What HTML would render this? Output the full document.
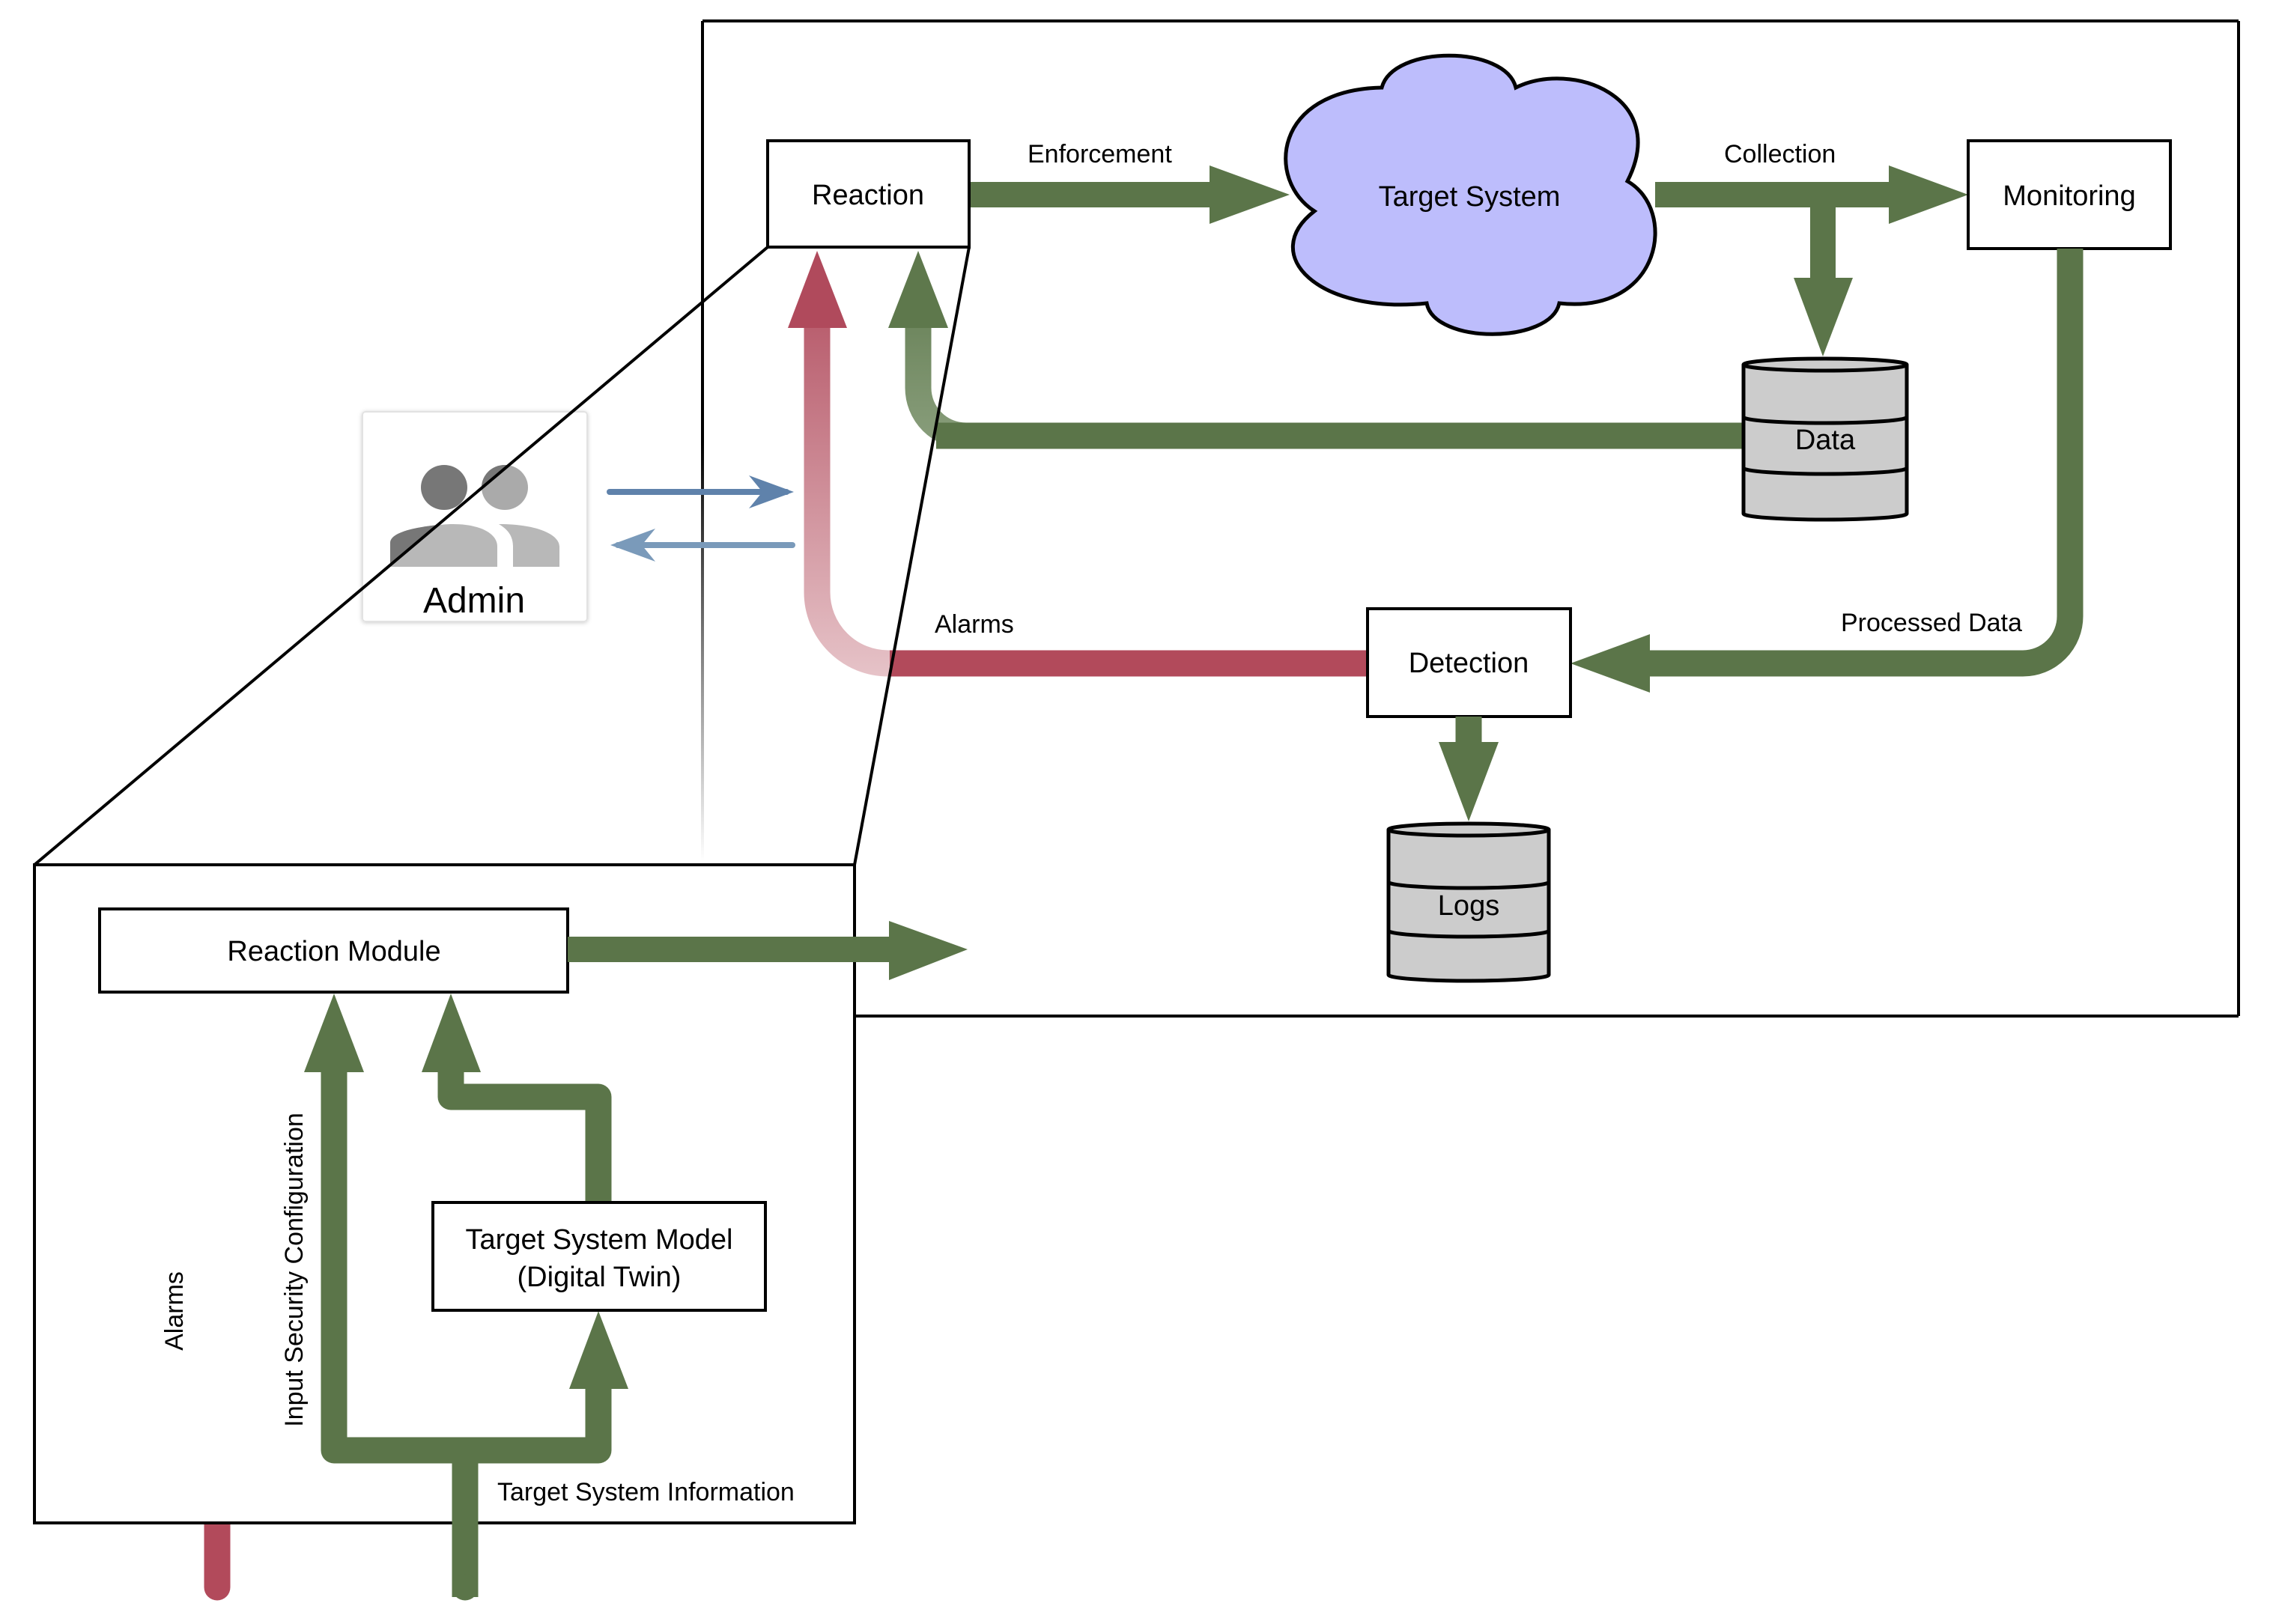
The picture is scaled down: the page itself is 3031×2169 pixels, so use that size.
<!DOCTYPE html>
<html><head><meta charset="utf-8"><style>
html,body{margin:0;padding:0;background:#fff;}
svg{display:block;}
text{font-family:"Liberation Sans",sans-serif;fill:#000;}
</style></head><body>
<svg width="3031" height="2169" viewBox="0 0 3031 2169" xmlns="http://www.w3.org/2000/svg">
<defs>
<linearGradient id="rg" x1="0" y1="335" x2="0" y2="904" gradientUnits="userSpaceOnUse">
<stop offset="0" stop-color="#b04a5c"/><stop offset="1" stop-color="#e6c3c8"/></linearGradient>
<linearGradient id="gg" x1="0" y1="335" x2="0" y2="600" gradientUnits="userSpaceOnUse">
<stop offset="0" stop-color="#5e784c"/><stop offset="1" stop-color="#8a9f7d"/></linearGradient>
<linearGradient id="vl" x1="0" y1="28" x2="0" y2="1150" gradientUnits="userSpaceOnUse">
<stop offset="0" stop-color="#000"/><stop offset="0.5" stop-color="#000"/><stop offset="1" stop-color="#000" stop-opacity="0"/></linearGradient>
<clipPath id="darkc"><polygon points="0,0 1417,0 46,1155 0,1155"/></clipPath>
<filter id="sh" x="-10%" y="-10%" width="120%" height="120%"><feDropShadow dx="0" dy="1" stdDeviation="3" flood-color="#000" flood-opacity="0.2"/></filter>
</defs>

<line x1="938" y1="28" x2="2989" y2="28" stroke="#000" stroke-width="4"/>
<line x1="2989" y1="28" x2="2989" y2="1357" stroke="#000" stroke-width="4"/>
<line x1="1141" y1="1357" x2="2989" y2="1357" stroke="#000" stroke-width="4"/>
<rect x="936" y="28" width="4" height="1122" fill="url(#vl)"/>

<rect x="484" y="550" width="300" height="280" rx="4" fill="#fff" stroke="#e2e2e2" stroke-width="2" filter="url(#sh)"/>
<g fill="#b8b8b8">
<ellipse cx="593" cy="651" rx="31" ry="30" fill="#777"/>
<ellipse cx="674" cy="651" rx="31" ry="30" fill="#aaa"/>
<path d="M521,757 L521,725 C521,705 590,700 605,700 C640,700 664,712 664,730 L664,757 Z"/>
<path d="M666,700 C720,700 747,715 747,730 L747,757 L685,757 L685,730 C685,718 680,708 666,700 Z"/>
</g>
<g clip-path="url(#darkc)" fill="#777">
<ellipse cx="674" cy="651" rx="31" ry="30"/>
<path d="M521,757 L521,725 C521,705 590,700 605,700 C640,700 664,712 664,730 L664,757 Z"/>
</g>
<text x="633" y="818" font-size="48" text-anchor="middle">Admin</text>

<line x1="814" y1="657" x2="1050" y2="657" stroke="#5f82ab" stroke-width="8" stroke-linecap="round"/>
<polygon points="1060,657 1000,635 1018,657 1000,679" fill="#5f82ab"/>
<line x1="825" y1="728" x2="1058" y2="728" stroke="#7a9aba" stroke-width="8" stroke-linecap="round"/>
<polygon points="815,728 875,706 857,728 875,750" fill="#7a9aba"/>

<path d="M1091,438 L1091,791 A95,95 0 0 0 1186,886 L1190,886" fill="none" stroke="url(#rg)" stroke-width="35"/>
<polygon points="1091,335 1052,438 1131,438" fill="#b04a5c"/>
<line x1="1188" y1="886" x2="1827" y2="886" stroke="#b24a5b" stroke-width="35"/>
<text x="1248" y="845" font-size="34">Alarms</text>

<path d="M1226,438 L1226,518 A64,64 0 0 0 1290,582" fill="none" stroke="url(#gg)" stroke-width="35"/>
<polygon points="1226,335 1186,438 1266,438" fill="#5e784c"/>
<line x1="1250" y1="582" x2="2330" y2="582" stroke="#5b7549" stroke-width="35"/>

<line x1="1294" y1="260" x2="1620" y2="260" stroke="#5b7549" stroke-width="34"/>
<polygon points="1615,221 1722,260 1615,299" fill="#5b7549"/>
<text x="1372" y="217" font-size="34">Enforcement</text>

<path d="M1755,282 C1690,240 1700,120 1845,117 C1860,60 2010,60 2024,117 C2100,80 2230,130 2173,242 C2240,280 2220,420 2082,405 C2070,460 1915,460 1905,405 C1760,420 1680,340 1755,282 Z" fill="#bdbdfc" stroke="#000" stroke-width="5"/>
<text x="1962" y="275" font-size="38" text-anchor="middle">Target System</text>

<line x1="2210" y1="260" x2="2525" y2="260" stroke="#5b7549" stroke-width="34"/>
<polygon points="2522,221 2628,260 2522,299" fill="#5b7549"/>
<text x="2302" y="217" font-size="34">Collection</text>
<line x1="2434" y1="260" x2="2434" y2="375" stroke="#5b7549" stroke-width="34"/>
<polygon points="2395,371 2474,371 2434,476" fill="#5b7549"/>

<g stroke="#000" stroke-width="5" fill="#cccccc">
<path d="M2328,487 L2328,686 A109,8 0 0 0 2546,686 L2546,487"/>
<ellipse cx="2437" cy="487" rx="109" ry="8"/>
<path d="M2328,557 A109,8 0 0 0 2546,557" fill="none"/>
<path d="M2328,625 A109,8 0 0 0 2546,625" fill="none"/>
</g>
<text x="2437" y="600" font-size="38" text-anchor="middle">Data</text>

<rect x="2628" y="188" width="270" height="144" fill="#fff" stroke="#000" stroke-width="4"/>
<text x="2763" y="274" font-size="38" text-anchor="middle">Monitoring</text>
<path d="M2764,332 L2764,823 A63,63 0 0 1 2701,886 L2200,886" fill="none" stroke="#5b7549" stroke-width="35"/>
<polygon points="2203,847 2097,886 2203,925" fill="#5b7549"/>
<text x="2458" y="843" font-size="34">Processed Data</text>

<rect x="1025" y="188" width="269" height="142" fill="#fff" stroke="#000" stroke-width="4"/>
<text x="1159" y="273" font-size="38" text-anchor="middle">Reaction</text>

<rect x="1826" y="813" width="271" height="144" fill="#fff" stroke="#000" stroke-width="4"/>
<text x="1961" y="898" font-size="38" text-anchor="middle">Detection</text>
<line x1="1961" y1="957" x2="1961" y2="995" stroke="#5b7549" stroke-width="35"/>
<polygon points="1921,991 2001,991 1961,1097" fill="#5b7549"/>

<g stroke="#000" stroke-width="5" fill="#cccccc">
<path d="M1854,1108 L1854,1302 A107,8 0 0 0 2068,1302 L2068,1108"/>
<ellipse cx="1961" cy="1108" rx="107" ry="8"/>
<path d="M1854,1178 A107,8 0 0 0 2068,1178" fill="none"/>
<path d="M1854,1243 A107,8 0 0 0 2068,1243" fill="none"/>
</g>
<text x="1961" y="1222" font-size="38" text-anchor="middle">Logs</text>

<line x1="1025" y1="330" x2="46" y2="1155" stroke="#000" stroke-width="4"/>
<line x1="1294" y1="330" x2="1141" y2="1155" stroke="#000" stroke-width="4"/>

<rect x="46" y="1155" width="1095" height="879" fill="#fff" stroke="#000" stroke-width="4"/>
<rect x="133" y="1214" width="625" height="111" fill="#fff" stroke="#000" stroke-width="4"/>
<text x="446" y="1283" font-size="38" text-anchor="middle">Reaction Module</text>
<line x1="758" y1="1268" x2="1190" y2="1268" stroke="#5b7549" stroke-width="34"/>
<polygon points="1187,1230 1292,1268 1187,1309" fill="#5b7549"/>

<path d="M621,2133 L621,1937 M446,1430 L446,1937 L799,1937 L799,1852 M602,1430 L602,1465 L799,1465 L799,1606" fill="none" stroke="#5b7549" stroke-width="35" stroke-linejoin="round"/>
<line x1="621" y1="1937" x2="621" y2="2120" stroke="#5b7549" stroke-width="35"/>
<circle cx="621" cy="2120" r="17.5" fill="#5b7549"/>
<polygon points="446,1327 406,1432 486,1432" fill="#5b7549"/>
<polygon points="602,1327 563,1432 642,1432" fill="#5b7549"/>
<polygon points="799,1751 760,1855 839,1855" fill="#5b7549"/>
<line x1="290" y1="2036" x2="290" y2="2120" stroke="#b24a5b" stroke-width="35"/>
<circle cx="290" cy="2120" r="17.5" fill="#b24a5b"/>

<rect x="578" y="1606" width="444" height="144" fill="#fff" stroke="#000" stroke-width="4"/>
<text x="800" y="1668" font-size="38" text-anchor="middle">Target System Model</text>
<text x="800" y="1718" font-size="38" text-anchor="middle">(Digital Twin)</text>

<text transform="translate(244,1751) rotate(-90)" font-size="34" text-anchor="middle">Alarms</text>
<text transform="translate(404,1696) rotate(-90)" font-size="34" text-anchor="middle">Input Security Configuration</text>
<text x="664" y="2004" font-size="34">Target System Information</text>
</svg>
</body></html>
